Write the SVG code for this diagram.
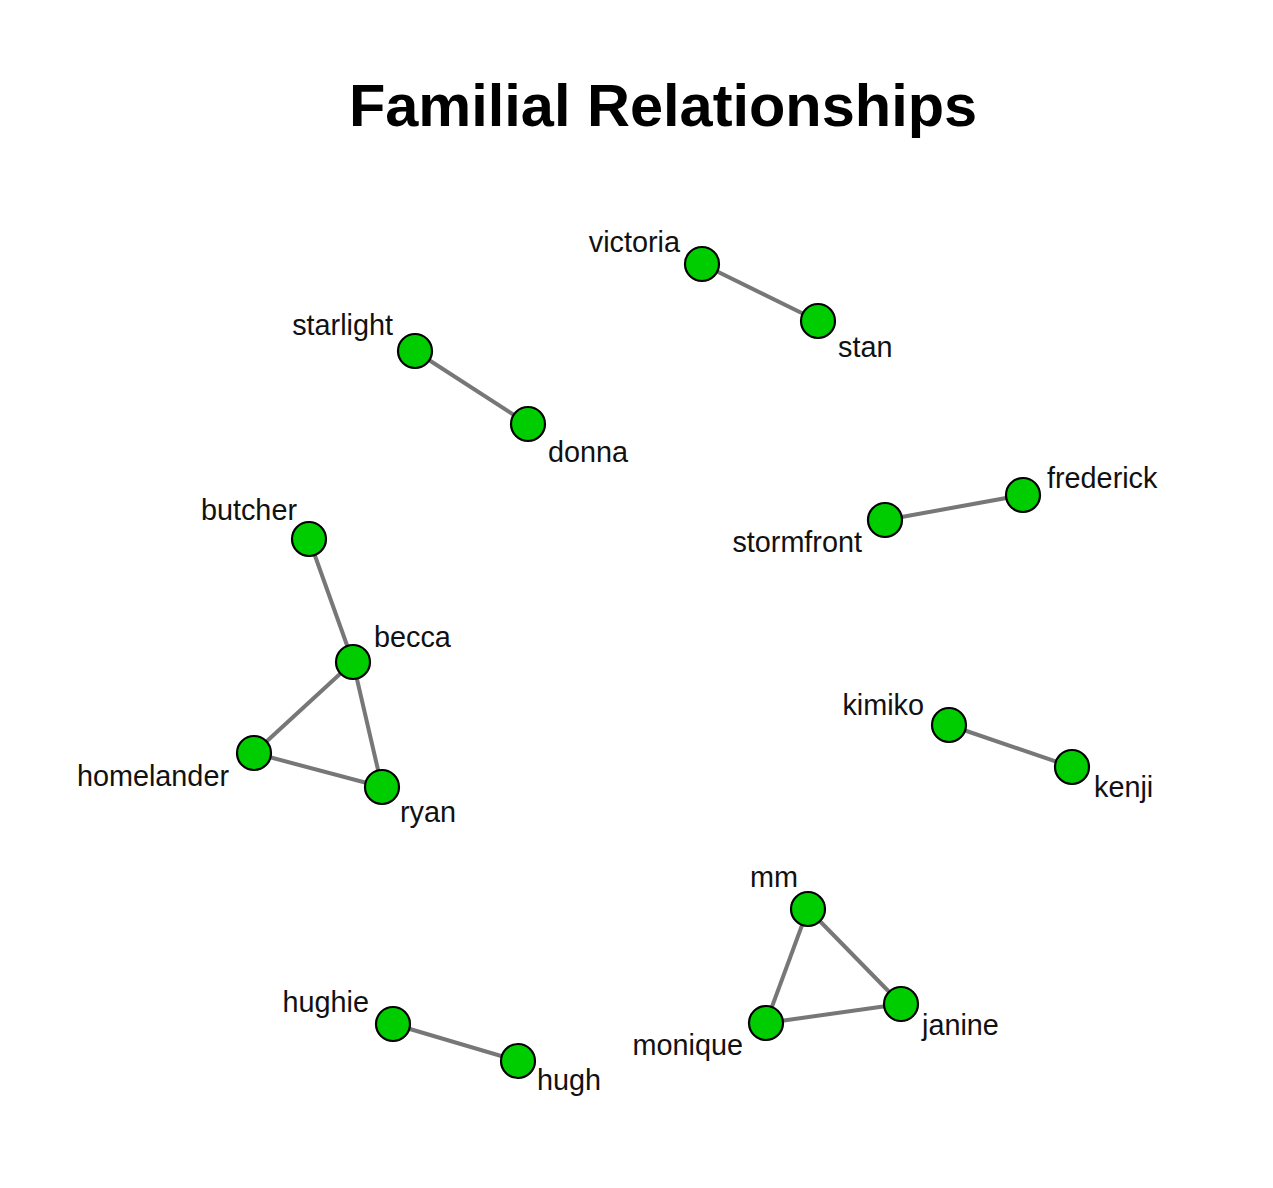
<svg xmlns="http://www.w3.org/2000/svg" width="1273" height="1188" viewBox="0 0 1273 1188">
<style>
.e{stroke:#777777;stroke-width:4;fill:none}
.n{fill:#00cd00;stroke:#000;stroke-width:2.2}
.l{font-family:"Liberation Sans",Arial,sans-serif;font-size:28.8px;fill:#111}
.s{text-anchor:end}
.t{font-family:"Liberation Sans",Arial,sans-serif;font-size:59.5px;font-weight:bold;fill:#000;text-anchor:middle}
</style>
<rect width="1273" height="1188" fill="#fff"/>
<text class="t" x="663" y="126">Familial Relationships</text>
<g id="edges">
<line class="e" x1="702" y1="264" x2="818" y2="321"/>
<line class="e" x1="415" y1="351" x2="528" y2="424"/>
<line class="e" x1="885" y1="520" x2="1023" y2="495"/>
<line class="e" x1="309" y1="539" x2="353" y2="662"/>
<line class="e" x1="353" y1="662" x2="254" y2="753"/>
<line class="e" x1="353" y1="662" x2="382" y2="787"/>
<line class="e" x1="254" y1="753" x2="382" y2="787"/>
<line class="e" x1="949" y1="725" x2="1072" y2="767"/>
<line class="e" x1="808" y1="909" x2="901" y2="1004"/>
<line class="e" x1="808" y1="909" x2="766" y2="1023"/>
<line class="e" x1="766" y1="1023" x2="901" y2="1004"/>
<line class="e" x1="393" y1="1024" x2="518" y2="1061"/>
</g>
<g id="victoria"><circle class="n" cx="702" cy="264" r="17"/><text class="l s" x="680" y="252">victoria</text></g>
<g id="stan"><circle class="n" cx="818" cy="321" r="17"/><text class="l" x="838" y="357">stan</text></g>
<g id="starlight"><circle class="n" cx="415" cy="351" r="17"/><text class="l s" x="393" y="335">starlight</text></g>
<g id="donna"><circle class="n" cx="528" cy="424" r="17"/><text class="l" x="548" y="462">donna</text></g>
<g id="frederick"><circle class="n" cx="1023" cy="495" r="17"/><text class="l" x="1047" y="488">frederick</text></g>
<g id="stormfront"><circle class="n" cx="885" cy="520" r="17"/><text class="l s" x="862" y="552">stormfront</text></g>
<g id="butcher"><circle class="n" cx="309" cy="539" r="17"/><text class="l s" x="297" y="520">butcher</text></g>
<g id="becca"><circle class="n" cx="353" cy="662" r="17"/><text class="l" x="374" y="647">becca</text></g>
<g id="homelander"><circle class="n" cx="254" cy="753" r="17"/><text class="l s" x="229" y="786">homelander</text></g>
<g id="ryan"><circle class="n" cx="382" cy="787" r="17"/><text class="l" x="400" y="822">ryan</text></g>
<g id="kimiko"><circle class="n" cx="949" cy="725" r="17"/><text class="l s" x="924" y="715">kimiko</text></g>
<g id="kenji"><circle class="n" cx="1072" cy="767" r="17"/><text class="l" x="1094" y="797">kenji</text></g>
<g id="mm"><circle class="n" cx="808" cy="909" r="17"/><text class="l s" x="798" y="887">mm</text></g>
<g id="janine"><circle class="n" cx="901" cy="1004" r="17"/><text class="l" x="922" y="1035">janine</text></g>
<g id="monique"><circle class="n" cx="766" cy="1023" r="17"/><text class="l s" x="743" y="1055">monique</text></g>
<g id="hughie"><circle class="n" cx="393" cy="1024" r="17"/><text class="l s" x="369" y="1012">hughie</text></g>
<g id="hugh"><circle class="n" cx="518" cy="1061" r="17"/><text class="l" x="537" y="1090">hugh</text></g>
</svg>
